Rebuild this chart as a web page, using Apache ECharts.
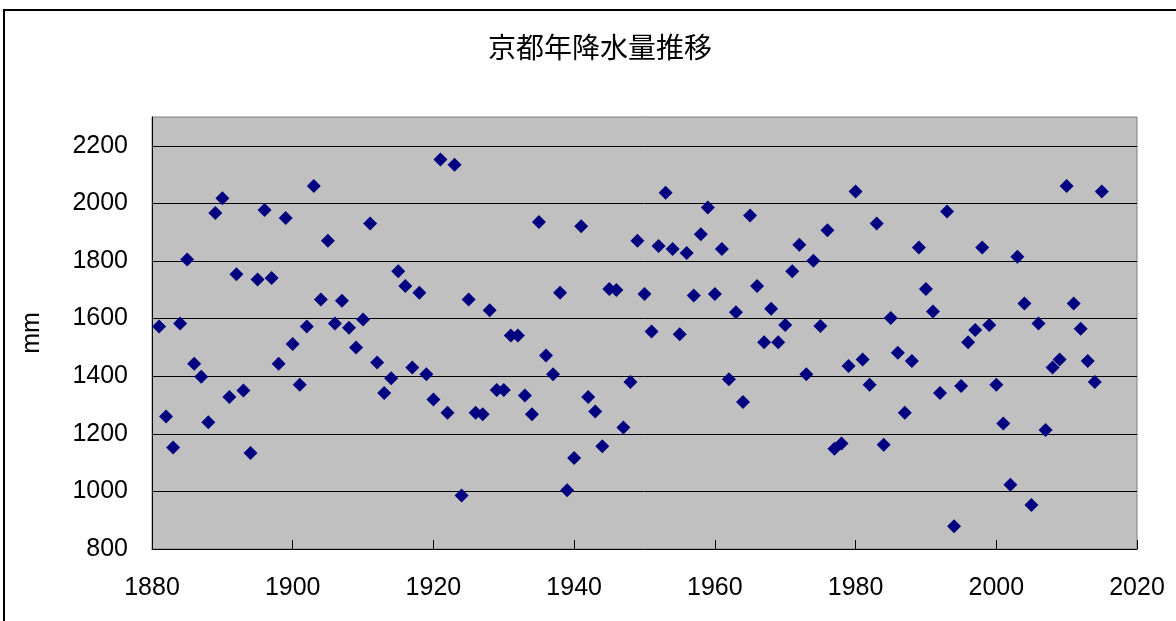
<!DOCTYPE html>
<html>
<head>
<meta charset="utf-8">
<script src="https://cdn.jsdelivr.net/npm/echarts@6/dist/echarts.min.js"></script>
<style>html,body{margin:0;padding:0;background:#fff}#c{width:1176px;height:621px}</style>
</head>
<body>
<div id="c"></div>
<script>
const titleText = '京都年降水量推移';
const yAxisName = 'mm';
const years = [];
for (let y = 1881; y <= 2015; y++) years.push(y);
const rainfall = [
1573,1260,1152,1583,1805,1443,1398,1240,1967,2018,
1328,1754,1350,1133,1736,1977,1741,1443,1949,1512,
1370,1573,2060,1666,1870,1583,1662,1568,1500,1597,
1930,1448,1342,1393,1764,1713,1430,1690,1407,1319,
2152,1273,2134,986,1666,1273,1268,1629,1352,1352,
1541,1541,1333,1268,1935,1472,1407,1690,1004,1116,
1921,1328,1277,1157,1703,1699,1222,1380,1870,1685,
1555,1852,2037,1842,1546,1828,1680,1893,1986,1685,
1842,1389,1622,1310,1958,1713,1518,1634,1518,1578,
1764,1856,1407,1801,1574,1907,1148,1166,1435,2041,
1458,1370,1930,1162,1602,1481,1273,1453,1847,1703,
1625,1342,1972,879,1366,1518,1560,1847,1578,1370,
1236,1023,1815,1652,953,1583,1213,1430,1458,2060,
1652,1565,1453,1380,2041
];
const points = years.map((y, i) => [y, rainfall[i]]);

const chart = echarts.init(document.getElementById('c'), null, {renderer: 'canvas'});
const numFont = 'Liberation Sans, Arial, sans-serif';
chart.setOption({
  animation: false,
  backgroundColor: '#ffffff',
  graphic: [{
    type: 'rect', shape: {x: 4, y: 10, width: 1300, height: 700},
    style: {fill: 'none', stroke: '#000', lineWidth: 2}, silent: true, z: -1
  }],
  title: {
    text: titleText, left: 595, top: 28, textAlign: 'center',
    textStyle: {fontFamily: 'Noto Sans CJK JP', fontSize: 28, fontWeight: 'normal', color: '#000'}
  },
  grid: {
    left: 152, right: 39, top: 117, bottom: 72,
    show: true, backgroundColor: '#c0c0c0', borderColor: '#808080', borderWidth: 1
  },
  xAxis: {
    type: 'value', min: 1880, max: 2020, interval: 20,
    axisLine: {show: true, lineStyle: {color: '#000', width: 1}},
    axisTick: {show: true, inside: true, length: 9, lineStyle: {color: '#000'}},
    axisLabel: {fontFamily: numFont, fontSize: 25, color: '#000', margin: 27, formatter: v => String(v)},
    splitLine: {show: false}
  },
  yAxis: {
    type: 'value', min: 800, max: 2300, interval: 200,
    name: yAxisName, nameLocation: 'middle', nameRotate: 90, nameGap: 107,
    nameTextStyle: {fontFamily: numFont, fontSize: 25, color: '#000'},
    axisLine: {show: true, lineStyle: {color: '#000', width: 1}},
    axisTick: {show: true, inside: true, length: 7, lineStyle: {color: '#000'}},
    axisLabel: {fontFamily: numFont, fontSize: 25, color: '#000', margin: 24, showMaxLabel: false, formatter: v => String(v)},
    splitLine: {show: true, showMaxLine: false, showMinLine: false, lineStyle: {color: '#000', width: 1}}
  },
  series: [{
    type: 'scatter', data: points, symbol: 'diamond', symbolSize: 14,
    itemStyle: {color: '#000080', opacity: 1}
  }]
});
</script>
</body>
</html>
